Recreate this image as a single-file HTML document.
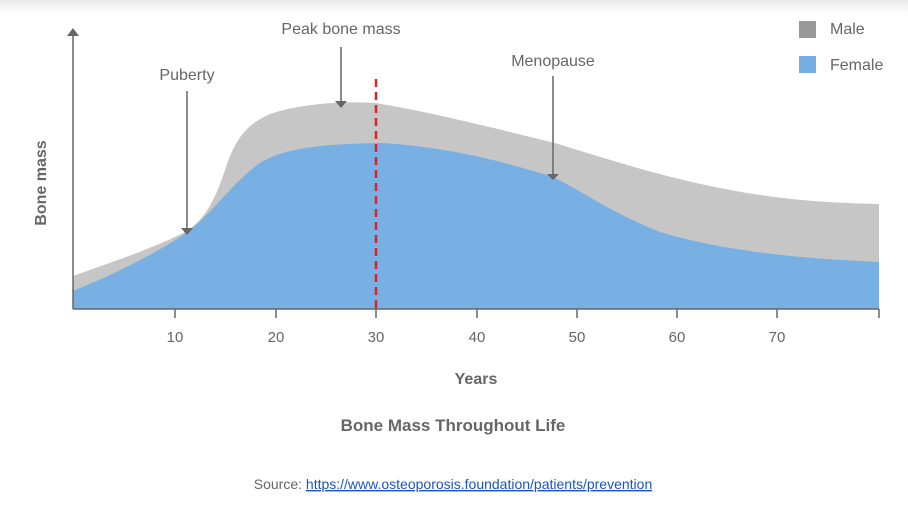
<!DOCTYPE html>
<html><head><style>
body{margin:0;width:908px;height:510px;background:#fff;overflow:hidden;font-family:"Liberation Sans",sans-serif}
</style></head><body>
<div style="position:absolute;left:0;top:0;width:908px;height:14px;background:linear-gradient(#e8e8e8,#fff)"></div>
<svg width="908" height="510" style="position:absolute;left:0;top:0" xmlns="http://www.w3.org/2000/svg">
<path d="M73,276 C100,266 150,250 185,232 C205,220 215,200 225,170 C235,140 245,125 270,114 C300,104 340,101 375,103 C420,110 470,122 555,143 C610,160 660,176 720,188 C780,200 830,203 879,204 L879,309 L73,309 Z" fill="#c6c6c6"/>
<path d="M73,291 C110,276 160,252 190,230 C215,210 235,180 260,163 C285,148 320,144 380,143 C440,146 500,160 553,177 C580,190 610,212 660,232 C720,250 790,258 879,262 L879,309 L73,309 Z" fill="#79b0e3"/>
<line x1="376" y1="79" x2="376" y2="309" stroke="#e0202a" stroke-width="2.5" stroke-dasharray="8,5"/>
<g stroke="#666" stroke-width="1.5" fill="none">
<line x1="73" y1="309" x2="879" y2="309"/>
<line x1="73" y1="309" x2="73" y2="34"/>
<line x1="175" y1="309" x2="175" y2="318"/><line x1="276" y1="309" x2="276" y2="318"/><line x1="376" y1="309" x2="376" y2="318"/><line x1="477" y1="309" x2="477" y2="318"/><line x1="577" y1="309" x2="577" y2="318"/><line x1="677" y1="309" x2="677" y2="318"/><line x1="777" y1="309" x2="777" y2="318"/><line x1="879" y1="309" x2="879" y2="318"/>
<line x1="187" y1="91" x2="187" y2="228"/><line x1="341" y1="47" x2="341" y2="101"/><line x1="553" y1="76" x2="553" y2="174"/>
</g>
<g fill="#666">
<polygon points="67,36 79,36 73,28"/>
<polygon points="181,228 193,228 187,235"/><polygon points="335,101 347,101 341,108"/><polygon points="547,174 559,174 553,180"/>
</g>
<rect x="799" y="21" width="17" height="17" fill="#999"/>
<rect x="799" y="56" width="17" height="17" fill="#74aee3"/>
<g fill="#666" font-size="16" font-family="Liberation Sans,sans-serif">
<text x="830" y="34">Male</text><text x="830" y="70">Female</text>
<text x="187" y="80" text-anchor="middle">Puberty</text>
<text x="341" y="34" text-anchor="middle">Peak bone mass</text>
<text x="553" y="66" text-anchor="middle">Menopause</text>
<g text-anchor="middle" font-size="15"><text x="175" y="342">10</text><text x="276" y="342">20</text><text x="376" y="342">30</text><text x="477" y="342">40</text><text x="577" y="342">50</text><text x="677" y="342">60</text><text x="777" y="342">70</text></g>
<text x="476" y="384" text-anchor="middle" font-weight="bold">Years</text>
<text transform="translate(46,183) rotate(-90)" text-anchor="middle" font-weight="bold">Bone mass</text>
<text x="453" y="431" text-anchor="middle" font-weight="bold" font-size="17">Bone Mass Throughout Life</text>
</g>
<text x="453" y="489" text-anchor="middle" font-size="14" fill="#666" font-family="Liberation Sans,sans-serif">Source: <tspan fill="#1a55c0" text-decoration="underline">https://www.osteoporosis.foundation/patients/prevention</tspan></text>
</svg>
</body></html>
